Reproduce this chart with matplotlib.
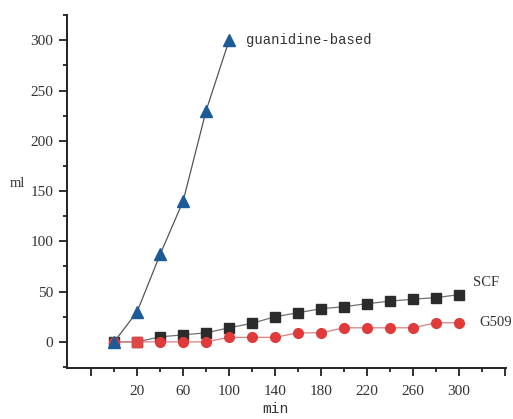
import numpy as np
import matplotlib.pyplot as plt
from matplotlib.ticker import FixedLocator, MultipleLocator

guan_x = [0, 20, 40, 60, 80, 100]
guan_y = [0, 30, 87, 140, 230, 300]

scf_x = [0, 20, 40, 60, 80, 100, 120, 140, 160, 180, 200, 220, 240, 260, 280, 300]
scf_y = [0, 0, 5, 7, 9, 14, 18.5, 25, 29, 33, 35, 38, 40.5, 42.5, 44, 47]

g509_x = [0, 20, 40, 60, 80, 100, 120, 140, 160, 180, 200, 220, 240, 260, 280, 300]
g509_y = [0, 0, 0, 0, 0, 4.5, 4.5, 4.5, 9, 9, 14, 14, 14, 14, 19, 19]

x_major = [-20, 20, 60, 100, 140, 180, 220, 260, 300, 340]
x_labels = ["", "20", "60", "100", "140", "180", "220", "260", "300", ""]
y_major = [0, 50, 100, 150, 200, 250, 300]

SERIF = ["Liberation Serif", "DejaVu Serif"]


def main():
    fig = plt.figure(figsize=(5.13, 4.19), dpi=100)
    ax = fig.add_axes([0.1306, 0.1217, 0.856, 0.842])

    line_col = "#707070"
    ax.plot(scf_x, scf_y, color=line_col, lw=0.9, marker="s", ms=6.5,
            mfc="#2b2b2b", mec="#2b2b2b", zorder=3)
    ax.plot(g509_x, g509_y, color="#d88080", lw=0.9, marker="o", ms=7,
            mfc="#e03a3a", mec="#e03a3a", zorder=4)
    # the overlapping point at 20 min shows as a red square
    ax.plot(scf_x[1], scf_y[1], marker="s", ms=6.5, mfc="#e04848",
            mec="#e04848", zorder=5)
    ax.plot(guan_x, guan_y, color="#555555", lw=0.9, marker="^", ms=8,
            mfc="#1c5a98", mec="#1c5a98", zorder=6)

    ax.set_xlim(-41, 341)
    ax.set_ylim(-26, 325)

    ax.xaxis.set_major_locator(FixedLocator(x_major))
    ax.set_xticklabels(x_labels)
    ax.xaxis.set_minor_locator(FixedLocator(np.arange(0, 341, 40)))
    ax.yaxis.set_major_locator(FixedLocator(y_major))
    ax.yaxis.set_minor_locator(MultipleLocator(25))

    for s in ["top", "right"]:
        ax.spines[s].set_visible(False)
    for s in ["left", "bottom"]:
        ax.spines[s].set_linewidth(1.4)
        ax.spines[s].set_color("#222222")

    ax.tick_params(which="major", direction="out", length=6, width=1.3,
                   colors="#222222", labelsize=11, pad=4)
    ax.tick_params(axis="x", which="major", pad=6)
    ax.tick_params(which="minor", direction="out", length=3, width=1.3,
                   colors="#222222")
    for lab in ax.get_xticklabels() + ax.get_yticklabels():
        lab.set_family(SERIF)
        lab.set_color("#333333")

    ax.text(-0.13, 0.524, "ml", transform=ax.transAxes, fontsize=10.5,
            family=SERIF, color="#333333", va="center")
    ax.text(0.444, -0.115, "min", transform=ax.transAxes, fontsize=10.5,
            family="Liberation Mono", color="#333333", va="center")

    ax.text(guan_x[-1] + 15, guan_y[-1], "guanidine-based", fontsize=10,
            family="Liberation Mono", color="#333333", va="center")
    ax.text(scf_x[-1] + 12, scf_y[-1] + 12, "SCF", fontsize=10.5,
            family=SERIF, color="#333333", va="center")
    ax.text(g509_x[-1] + 18, g509_y[-1], "G509", fontsize=10.5,
            family=SERIF, color="#333333", va="center")

    fig.savefig("out.png", dpi=100, facecolor="white")


if __name__ == '__main__':
    main()
